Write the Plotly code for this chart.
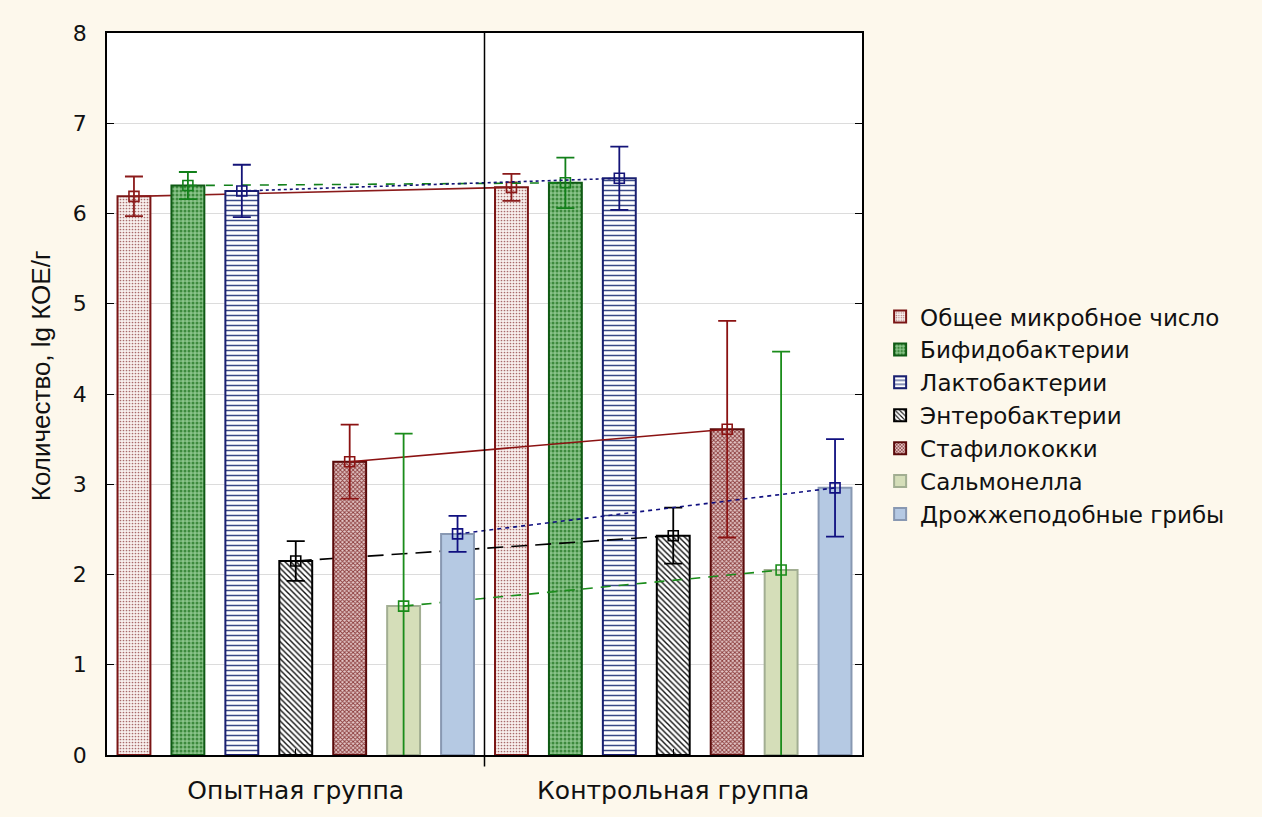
import plotly.graph_objects as go

# --- data -------------------------------------------------------------
groups = ["Опытная группа", "Контрольная группа"]
series = [
    "Общее микробное число",
    "Бифидобактерии",
    "Лактобактерии",
    "Энтеробактерии",
    "Стафилококки",
    "Сальмонелла",
    "Дрожжеподобные грибы",
]
means_exp = [6.19, 6.31, 6.25, 2.15, 3.25, 1.65, 2.45]
err_exp = [0.22, 0.15, 0.29, 0.22, 0.41, 1.91, 0.20]
means_ctl = [6.29, 6.34, 6.39, 2.43, 3.61, 2.05, 2.96]
err_ctl = [0.15, 0.28, 0.35, 0.31, 1.20, 2.42, 0.54]
y_ticks = [0, 1, 2, 3, 4, 5, 6, 7, 8]
y_title = "Количество, lg КОЕ/г"

# --- styles -----------------------------------------------------------
styles = [
    dict(line="#8b1a1a", dash="solid", edge="#7a1515",
         pattern=dict(shape=".", bgcolor="#f8f0ee", fgcolor="#a86a6a", size=3, solidity=0.25)),
    dict(line="#12801a", dash="dash", edge="#0f5a14",
         pattern=dict(shape=".", bgcolor="#8ac48a", fgcolor="#3d8a3d", size=4, solidity=0.45)),
    dict(line="#141478", dash="3px,3px", edge="#1a2070",
         pattern=dict(shape="-", bgcolor="#ffffff", fgcolor="#3a4a88", size=5, solidity=0.3)),
    dict(line="#000000", dash="16px,8px", edge="#000000",
         pattern=dict(shape="\\", bgcolor="#ffffff", fgcolor="#111111", size=4, solidity=0.35)),
    dict(line="#8b1212", dash="solid", edge="#5a0a0a",
         pattern=dict(shape="x", bgcolor="#e4c8c8", fgcolor="#8a3a3a", size=3, solidity=0.5)),
    dict(line="#1a8c1a", dash="10px,8px", edge="#a2ae92", color="#d5deb9",
         pattern=dict(shape="")),
    dict(line="#101080", dash="4px,4px", edge="#8898b2", color="#b5c9e3",
         pattern=dict(shape="")),
]

n = len(series)
slot = 1.0 / n
bar_w = slot * 0.61

fig = go.Figure()
for i, name in enumerate(series):
    st = styles[i]
    k = "" if i == 0 else str(i + 1)
    xs = [g + (i - (n - 1) / 2) * slot for g in range(len(groups))]
    ys = [means_exp[i], means_ctl[i]]
    errs = [err_exp[i], err_ctl[i]]
    marker = dict(line=dict(color=st["edge"], width=2))
    if st["pattern"]["shape"]:
        marker["pattern"] = dict(fillmode="replace", **st["pattern"])
        marker["color"] = st["pattern"]["bgcolor"]
    else:
        marker["color"] = st["color"]
    # each series lives on its own overlaid axis pair so that its bars and
    # connecting line are stacked in series order
    fig.add_trace(go.Bar(
        x=xs, y=ys, width=bar_w, name=name, marker=marker,
        xaxis="x" + k, yaxis="y" + k, showlegend=True,
    ))
    fig.add_trace(go.Scatter(
        x=xs, y=ys, mode="lines+markers", showlegend=False,
        line=dict(color=st["line"], width=1.6, dash=st["dash"]),
        marker=dict(symbol="square-open", size=10, color=st["line"],
                    line=dict(width=1.6, color=st["line"])),
        error_y=dict(type="data", array=errs, visible=True,
                     color=st["line"], thickness=1.8, width=9),
        xaxis="x" + k, yaxis="y" + k,
    ))

x_range = [-0.5, len(groups) - 0.5]
sans = "DejaVu Sans, Liberation Sans, Arial, sans-serif"

layout = dict(
    width=1262, height=817,
    margin=dict(l=107, r=400, t=33, b=60),
    paper_bgcolor="#fdf8ec",
    plot_bgcolor="#ffffff",
    barmode="overlay",
    showlegend=True,
    legend=dict(
        x=1.024, y=0.637, xanchor="left", yanchor="top",
        font=dict(family=sans, size=23, color="#111111"),
        bgcolor="rgba(0,0,0,0)", itemwidth=30, tracegroupgap=0,
    ),
    xaxis=dict(
        range=x_range, tickvals=list(range(len(groups))), ticktext=groups,
        ticks="inside", ticklen=6, tickcolor="#000000",
        showline=True, linecolor="#000000", linewidth=1.5, mirror=True,
        showgrid=False, zeroline=False,
        tickfont=dict(family=sans, size=25, color="#111111"), ticklabelstandoff=12,
    ),
    yaxis=dict(
        range=[0, 8], tickvals=y_ticks, ticks="inside", ticklen=7, tickcolor="#000000",
        showline=True, linecolor="#000000", linewidth=1.5, mirror="ticks",
        showgrid=True, gridcolor="#dcdcdc", gridwidth=1, zeroline=False,
        tickfont=dict(family=sans, size=22, color="#111111"), ticklabelstandoff=14,
    ),
    annotations=[dict(
        text=y_title, textangle=-90, xref="paper", yref="paper",
        x=-0.087, y=0.525, xanchor="center", yanchor="middle", showarrow=False,
        font=dict(family="Liberation Sans, Arial, sans-serif", size=26, color="#111111"),
    )],
    shapes=[dict(type="line", xref="x", yref="paper", x0=0.5, x1=0.5, y0=-0.016, y1=1,
                 line=dict(color="#000000", width=1.5), layer="above")],
)
for i in range(1, n):
    k = str(i + 1)
    layout["xaxis" + k] = dict(overlaying="x", range=x_range, visible=False, fixedrange=True)
    layout["yaxis" + k] = dict(overlaying="y", range=[0, 8], visible=False, fixedrange=True)

fig.update_layout(**layout)
fig.write_html("out.html")
